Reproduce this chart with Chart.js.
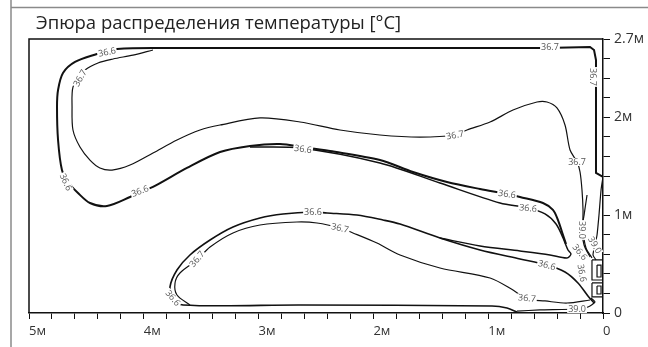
<!DOCTYPE html>
<html><head><meta charset="utf-8">
<script src="https://cdn.jsdelivr.net/npm/chart.js@4"></script>
<style>html,body{margin:0;padding:0;background:#fff;overflow:hidden}</style>
</head><body>
<canvas id="c" width="648" height="347"></canvas>
<script>
const chartTitle = 'Эпюра распределения температуры [°C]';
const xTickVals = [0, 1, 2, 3, 4, 5];
const xTickText = ['0', '1м', '2м', '3м', '4м', '5м'];
const yTickVals = [0, 1, 2, 2.8];
const yTickText = ['0', '1м', '2м', '2.7м'];

// contour polylines, [distance m, height m]
const outer66 = [[0.505,2.708],[2.639,2.708],[3.920,2.708],[4.233,2.698],[4.321,2.677],[4.408,2.647],[4.599,2.565],[4.704,2.452],[4.747,2.279],[4.756,2.105],[4.747,1.768],[4.713,1.461],[4.660,1.339],[4.573,1.226],[4.469,1.124],[4.321,1.093],[4.120,1.185],[4.033,1.236],[3.920,1.288],[3.624,1.482],[3.336,1.645],[3.075,1.707],[2.814,1.727],[2.613,1.696],[2.378,1.655],[1.943,1.563],[1.655,1.441],[1.359,1.339],[1.071,1.267],[0.836,1.216],[0.723,1.185],[0.523,1.124],[0.436,1.053],[0.392,0.950],[0.357,0.828],[0.322,0.705]];
const band66 = [[3.075,1.696],[2.639,1.686],[1.943,1.533],[1.420,1.328],[0.897,1.124],[0.653,1.073],[0.505,1.012],[0.409,0.909],[0.348,0.766],[0.305,0.644],[0.279,0.603],[0.314,0.562],[0.462,0.593],[0.723,0.634],[1.071,0.685],[1.420,0.766]];
const dome66 = [[0.749,0.010],[0.836,0.051],[0.967,0.072],[2.639,0.082],[3.659,0.082],[3.746,0.164],[3.772,0.266],[3.711,0.439],[3.598,0.593],[3.423,0.746],[3.223,0.879],[2.988,0.971],[2.787,1.012],[2.526,1.032],[2.404,1.022],[2.143,1.001],[1.916,0.950],[1.768,0.909],[1.420,0.766],[1.071,0.644],[0.723,0.552],[0.488,0.490],[0.331,0.419],[0.218,0.307],[0.131,0.174],[0.078,0.102]];
const dome67 = [[3.598,0.082],[3.711,0.184],[3.728,0.307],[3.685,0.409],[3.537,0.542],[3.423,0.674],[3.223,0.818],[2.988,0.899],[2.666,0.930],[2.491,0.920],[2.291,0.869],[2.178,0.818],[1.969,0.715],[1.768,0.593],[1.420,0.460],[0.984,0.358],[0.784,0.235],[0.662,0.143],[0.505,0.123],[0.314,0.102],[0.113,0.133]];
const upper67 = [[3.920,2.688],[4.094,2.636],[4.268,2.596],[4.399,2.555],[4.512,2.483],[4.556,2.401],[4.617,2.309],[4.625,2.105],[4.617,1.870],[4.556,1.696],[4.469,1.563],[4.382,1.482],[4.277,1.461],[4.120,1.512],[3.920,1.635],[3.711,1.768],[3.510,1.870],[3.336,1.921],[2.988,1.993],[2.639,1.952],[2.291,1.870],[1.943,1.819],[1.594,1.798],[1.289,1.819],[1.185,1.870],[0.984,1.952],[0.784,2.074],[0.575,2.156],[0.488,2.156],[0.401,2.095],[0.331,1.921],[0.287,1.666],[0.226,1.543],[0.200,1.441],[0.183,1.257],[0.174,1.053],[0.174,0.848],[0.148,0.664],[0.096,0.562]];
const wall67 = [[0.505,2.708],[0.113,2.718],[0.078,2.688],[0.061,2.585],[0.061,1.431],[0,1.390]];
const wall90 = [[0,1.390],[0.017,1.257],[0.035,1.001],[0.052,0.797],[0.070,0.695],[0.087,0.593],[0.061,0.542]];
const mid90 = [[0.139,1.206],[0.165,1.001],[0.183,0.848],[0.165,0.695],[0.113,0.572]];
const bottom90 = [[0.749,0.020],[0.549,0.031],[0.226,0.041],[0.131,0.061],[0.070,0.112],[0.105,0.153]];
const box1 = [[0.096,0.542],[0,0.542],[0,0.337],[0.096,0.337],[0.096,0.542]];
const box1in = [[0.052,0.490],[0.017,0.490],[0.017,0.368],[0.052,0.368],[0.052,0.490]];
const box2 = [[0.096,0.307],[0,0.307],[0,0.164],[0.096,0.164],[0.096,0.307]];
const box2in = [[0.052,0.276],[0.017,0.276],[0.017,0.194],[0.052,0.194],[0.052,0.276]];

// contour labels: [x m, y m, text, angle deg]
const contourLabels = [
  [4.321,2.667,'36.6',-12],[0.462,2.718,'36.7',0],[0.087,2.412,'36.7',90],[4.556,2.401,'36.7',-60],
  [4.678,1.339,'36.6',65],[4.033,1.247,'36.6',-20],[2.613,1.676,'36.6',8],[1.289,1.819,'36.7',-10],
  [0.226,1.543,'36.7',0],[0.836,1.216,'36.6',8],[0.653,1.073,'36.6',5],[2.526,1.032,'36.6',0],
  [2.291,0.869,'36.7',12],[3.537,0.552,'36.7',-50],[3.746,0.153,'36.6',50],[0.488,0.490,'36.6',15],
  [0.662,0.153,'36.7',5],[0.226,0.041,'39.0',0],[0.183,0.848,'39.0',90],[0.070,0.695,'39.0',60],
  [0.200,0.623,'36.6',50],[0.183,0.409,'36.6',80]
];

const lines = [
  {d: outer66, w: 2, t: 0.3}, {d: band66, w: 1.5, t: 0.3}, {d: dome66, w: 1.6, t: 0.3},
  {d: dome67, w: 1.2, t: 0.3}, {d: upper67, w: 1.2, t: 0.3},
  {d: wall67, w: 2, t: 0}, {d: wall90, w: 1.2, t: 0.2}, {d: mid90, w: 1.2, t: 0.3},
  {d: bottom90, w: 1.2, t: 0.2}, {d: box1, w: 1.2, t: 0}, {d: box1in, w: 1.2, t: 0},
  {d: box2, w: 1.2, t: 0}, {d: box2in, w: 1.2, t: 0}
];

function pick(vals, txt, v) {
  for (let i = 0; i < vals.length; i++) if (Math.abs(vals[i] - v) < 1e-6) return txt[i];
  return '';
}

const framePlugin = {
  id: 'frame',
  beforeDraw(chart) {
    const ctx = chart.ctx, a = chart.chartArea;
    ctx.save();
    ctx.fillStyle = '#fff';
    ctx.fillRect(0, 0, chart.width, chart.height);
    ctx.strokeStyle = '#8a8a8a';
    ctx.lineWidth = 1.5;
    ctx.beginPath();
    ctx.moveTo(11, 0); ctx.lineTo(11, chart.height);
    ctx.moveTo(11, 7.5); ctx.lineTo(chart.width, 7.5);
    ctx.stroke();
    ctx.fillStyle = '#222';
    ctx.font = '18.5px "Open Sans", sans-serif';
    ctx.textBaseline = 'alphabetic';
    ctx.fillText(chartTitle, 36, 29);
    ctx.strokeStyle = '#111';
    ctx.lineWidth = 1.5;
    ctx.beginPath();
    ctx.moveTo(a.left, a.bottom); ctx.lineTo(a.left, a.top); ctx.lineTo(a.right, a.top);
    ctx.stroke();
    ctx.restore();
  },
  afterDatasetsDraw(chart) {
    const ctx = chart.ctx, xs = chart.scales.x, ys = chart.scales.y;
    ctx.save();
    ctx.font = '9px "Open Sans", sans-serif';
    ctx.textAlign = 'center';
    ctx.textBaseline = 'middle';
    contourLabels.forEach(([x, y, t, ang]) => {
      const px = xs.getPixelForValue(x), py = ys.getPixelForValue(y);
      ctx.save();
      ctx.translate(px, py);
      ctx.rotate(ang * Math.PI / 180);
      const w = ctx.measureText(t).width + 2;
      ctx.fillStyle = '#fff';
      ctx.fillRect(-w / 2, -4, w, 8);
      ctx.fillStyle = '#555';
      ctx.fillText(t, 0, 0.5);
      ctx.restore();
    });
    ctx.restore();
  }
};

new Chart(document.getElementById('c'), {
  type: 'scatter',
  data: {
    datasets: lines.map(l => ({
      data: l.d.map(([x, y]) => ({x, y})),
      showLine: true, borderColor: '#111', borderWidth: l.w, pointRadius: 0,
      tension: l.t, fill: false
    }))
  },
  options: {
    responsive: false, animation: false, devicePixelRatio: 1,
    layout: {padding: {left: 29, top: 39, right: 0, bottom: 0}},
    plugins: {legend: {display: false}, tooltip: {enabled: false}, title: {display: false}},
    scales: {
      x: {
        type: 'linear', min: 0, max: 5, reverse: true, position: 'bottom',
        afterFit(s) { s.height = 34; },
        border: {display: true, color: '#111', width: 1.5},
        grid: {drawOnChartArea: false, drawTicks: true, tickLength: 6, color: '#111', lineWidth: 1},
        ticks: {stepSize: 0.2, autoSkip: false, maxRotation: 0, align: 'start', padding: 4,
          color: '#333', font: {family: '"Open Sans", sans-serif', size: 13},
          callback: v => pick(xTickVals, xTickText, v)}
      },
      y: {
        type: 'linear', min: 0, max: 2.8, position: 'right',
        afterFit(s) { s.width = 45; },
        border: {display: true, color: '#111', width: 1.5},
        grid: {drawOnChartArea: false, drawTicks: true, tickLength: 7, color: '#111', lineWidth: 1},
        ticks: {stepSize: 0.2, autoSkip: false, padding: 4,
          color: '#333', font: {family: '"Open Sans", sans-serif', size: 14},
          callback: v => pick(yTickVals, yTickText, v)}
      }
    }
  },
  plugins: [framePlugin]
});
</script>
</body></html>
